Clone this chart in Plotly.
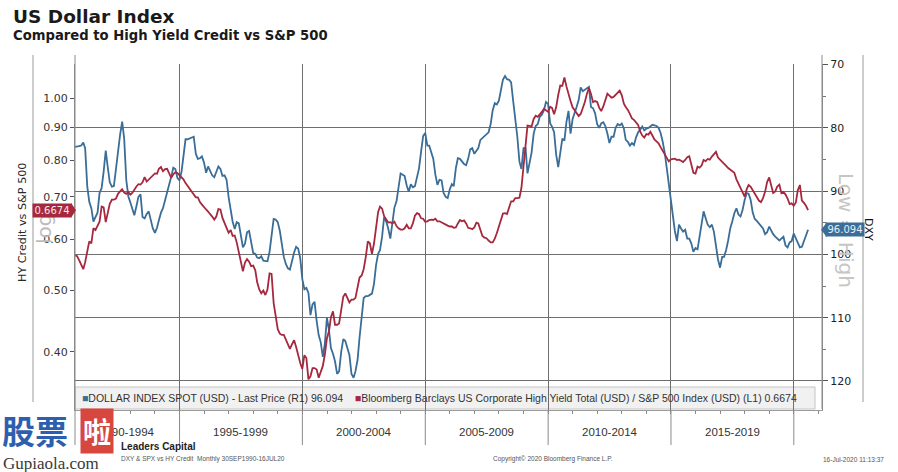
import math
import pandas as pd
import plotly.graph_objects as go

# ---------------- data (monthly, Sep-1990 .. Jul-2020) ----------------
start_month = "1990-09-30"

dxy = [
    83.0, 83.0, 82.9, 82.8, 82.3, 83.2, 89.2, 91.7, 92.7, 94.8,
    94.1, 93.4, 90.3, 89.5, 86.9, 83.6, 86.3, 88.6, 89.3, 89.2,
    86.5, 83.3, 81.1, 79.0, 81.7, 88.2, 90.8, 91.8, 92.8, 93.8,
    92.4, 90.9, 90.5, 94.1, 94.3, 93.6, 93.2, 94.5, 95.9, 96.6,
    95.8, 94.6, 93.4, 92.7, 91.5, 89.9, 89.0, 87.7, 86.3, 86.5,
    87.9, 88.3, 86.9, 84.6, 81.8, 81.8, 81.7, 81.5, 81.4, 84.1,
    84.9, 84.8, 84.5, 85.5, 87.1, 86.1, 86.8, 87.5, 87.8, 87.1,
    86.1, 86.5, 87.6, 87.5, 88.2, 91.0, 93.3, 94.8, 96.0, 94.9,
    95.1, 97.2, 98.9, 98.3, 96.5, 96.3, 98.2, 99.8, 99.9, 100.5,
    100.6, 100.3, 101.0, 101.0, 101.1, 99.6, 96.5, 94.4, 94.5, 94.9,
    96.3, 98.4, 100.4, 101.5, 102.2, 102.4, 100.8, 99.7, 98.8, 99.1,
    100.6, 103.9, 105.5, 105.3, 106.1, 109.6, 107.9, 107.5, 110.5, 112.8,
    113.9, 116.2, 114.1, 110.0, 112.0, 114.8, 115.7, 116.9, 118.9, 118.5,
    115.4, 113.4, 113.7, 114.8, 115.9, 118.9, 119.5, 118.5, 116.7, 113.1,
    109.5, 106.9, 106.6, 106.6, 106.4, 106.2, 104.7, 101.7, 99.9, 99.3,
    97.2, 94.1, 94.8, 95.9, 97.5, 94.8, 92.6, 91.6, 89.3, 87.2,
    87.4, 87.6, 89.1, 90.1, 88.9, 89.4, 89.2, 87.9, 86.4, 83.7,
    81.3, 80.8, 82.8, 82.8, 83.8, 84.9, 87.4, 89.0, 88.2, 88.3,
    90.3, 90.9, 91.1, 89.7, 88.9, 89.2, 86.4, 84.8, 84.9, 85.3,
    85.7, 85.9, 84.9, 83.4, 83.2, 84.1, 83.6, 83.2, 81.9, 81.6,
    81.2, 81.0, 80.7, 79.4, 77.2, 76.1, 76.3, 75.7, 74.2, 72.4,
    71.8, 72.3, 72.4, 72.8, 75.8, 78.4, 81.4, 85.3, 86.5, 83.2,
    83.2, 87.2, 85.6, 83.9, 80.9, 79.7, 79.4, 78.2, 77.9, 77.2,
    75.9, 76.2, 79.3, 79.8, 80.7, 84.2, 86.2, 83.8, 81.7, 82.0,
    79.1, 77.3, 80.9, 78.6, 77.7, 76.7, 75.6, 73.6, 74.2, 74.0,
    73.7, 73.5, 76.7, 76.9, 77.7, 79.4, 80.0, 79.3, 79.1, 79.7,
    80.9, 82.4, 81.4, 81.4, 80.0, 79.4, 79.6, 79.3, 80.1, 81.9,
    82.2, 82.8, 82.4, 82.7, 81.5, 80.7, 80.3, 79.8, 80.4, 80.1,
    80.0, 79.7, 79.5, 79.6, 79.7, 80.0, 80.8, 82.2, 83.9, 86.4,
    88.9, 91.3, 94.6, 96.3, 97.9, 95.3, 95.9, 96.4, 96.1, 97.5,
    97.5, 98.3, 99.6, 99.0, 99.2, 97.2, 94.5, 93.2, 94.3, 95.3,
    95.7, 95.3, 96.4, 98.5, 100.8, 102.1, 100.4, 100.4, 99.3, 97.8,
    95.9, 94.8, 93.5, 92.7, 93.7, 94.0, 93.0, 91.4, 90.3, 90.4,
    91.4, 93.4, 94.4, 94.7, 95.1, 95.4, 95.9, 96.8, 96.5, 95.6,
    96.3, 96.8, 97.2, 97.5, 97.8, 97.5, 97.2, 98.6, 98.9, 98.1,
    97.9, 96.7, 97.5, 98.4, 98.9, 98.8, 97.9, 97.2, 96.094,
]

hy_ratio = [
    0.567, 0.565, 0.557, 0.546, 0.539, 0.553, 0.579, 0.596, 0.592, 0.625,
    0.621, 0.629, 0.640, 0.676, 0.674, 0.639, 0.663, 0.683, 0.693, 0.693,
    0.696, 0.708, 0.714, 0.720, 0.711, 0.708, 0.713, 0.706, 0.711, 0.719,
    0.727, 0.733, 0.732, 0.738, 0.752, 0.740, 0.746, 0.751, 0.757, 0.762,
    0.761, 0.775, 0.780, 0.768, 0.774, 0.775, 0.762, 0.750, 0.760, 0.765,
    0.763, 0.758, 0.753, 0.746, 0.736, 0.728, 0.722, 0.712, 0.706, 0.699,
    0.699, 0.687, 0.681, 0.674, 0.669, 0.664, 0.659, 0.652, 0.645, 0.652,
    0.670, 0.669, 0.649, 0.635, 0.626, 0.615, 0.621, 0.608, 0.609, 0.594,
    0.572, 0.551, 0.535, 0.552, 0.559, 0.554, 0.545, 0.546, 0.537, 0.514,
    0.501, 0.494, 0.499, 0.491, 0.501, 0.531, 0.530, 0.477, 0.451, 0.434,
    0.427, 0.425, 0.425, 0.418, 0.412, 0.404, 0.411, 0.417, 0.407, 0.394,
    0.384, 0.376, 0.395, 0.391, 0.362, 0.366, 0.377, 0.377, 0.375, 0.364,
    0.371, 0.380, 0.396, 0.420, 0.431, 0.453, 0.463, 0.441, 0.441, 0.443,
    0.465, 0.488, 0.494, 0.486, 0.478, 0.483, 0.483, 0.486, 0.506, 0.523,
    0.527, 0.539, 0.563, 0.596, 0.592, 0.570, 0.591, 0.630, 0.663, 0.676,
    0.671, 0.653, 0.646, 0.638, 0.639, 0.636, 0.640, 0.630, 0.625, 0.622,
    0.622, 0.625, 0.633, 0.625, 0.625, 0.636, 0.654, 0.660, 0.658, 0.648,
    0.647, 0.640, 0.641, 0.644, 0.645, 0.644, 0.647, 0.641, 0.641, 0.638,
    0.636, 0.632, 0.631, 0.629, 0.629, 0.626, 0.627, 0.636, 0.644, 0.641,
    0.643, 0.636, 0.626, 0.625, 0.623, 0.627, 0.638, 0.636, 0.621, 0.608,
    0.604, 0.603, 0.598, 0.594, 0.594, 0.602, 0.614, 0.629, 0.646, 0.659,
    0.660, 0.658, 0.674, 0.689, 0.689, 0.697, 0.697, 0.698, 0.723, 0.787,
    0.862, 0.906, 0.905, 0.903, 0.928, 0.939, 0.935, 0.942, 0.952, 0.963,
    0.956, 0.952, 0.970, 0.966, 0.944, 0.968, 1.012, 1.047, 1.046, 1.078,
    1.044, 1.013, 0.990, 0.968, 0.958, 0.945, 0.938, 0.945, 0.964, 0.986,
    1.016, 1.038, 1.016, 0.986, 0.990, 0.987, 0.966, 0.955, 0.971, 0.993,
    1.017, 1.010, 1.002, 1.005, 1.013, 1.021, 1.028, 1.011, 0.981, 0.969,
    0.959, 0.945, 0.930, 0.925, 0.916, 0.908, 0.887, 0.874, 0.868, 0.879,
    0.877, 0.886, 0.874, 0.862, 0.856, 0.850, 0.838, 0.827, 0.815, 0.806,
    0.796, 0.802, 0.804, 0.804, 0.800, 0.801, 0.798, 0.794, 0.800, 0.808,
    0.811, 0.787, 0.764, 0.762, 0.781, 0.778, 0.784, 0.800, 0.797, 0.803,
    0.801, 0.810, 0.818, 0.824, 0.807, 0.800, 0.794, 0.789, 0.783, 0.777,
    0.772, 0.767, 0.764, 0.746, 0.735, 0.720, 0.709, 0.701, 0.720, 0.731,
    0.726, 0.717, 0.710, 0.700, 0.691, 0.687, 0.697, 0.713, 0.739, 0.751,
    0.726, 0.710, 0.714, 0.727, 0.732, 0.710, 0.713, 0.706, 0.696, 0.682,
    0.684, 0.678, 0.686, 0.717, 0.731, 0.691, 0.685, 0.678, 0.6674,
]

dxy_ticks = [70, 80, 90, 100, 110, 120]
ratio_ticks = [0.40, 0.50, 0.60, 0.70, 0.80, 0.90, 1.00]
period_bounds = ["1995-01-01", "2000-01-01", "2005-01-01", "2010-01-01", "2015-01-01", "2020-01-01"]
period_labels = ["1990-1994", "1995-1999", "2000-2004", "2005-2009", "2010-2014", "2015-2019"]

last_dxy = "96.094"
last_ratio = "0.6674"

# ---------------- styling ----------------
BLUE = "#3a6d97"
RED = "#a6283f"
GRID = "#6f6f6f"
X_RANGE = ["1990-09-30", "2021-02-23"]
DXY_RANGE = [124.6, 69.9]
RATIO_RANGE = [math.log10(0.324), math.log10(1.132)]

W, H = 898, 472
L, R, T, B = 75, 822, 64, 410


def px(x):
    return (x - L) / (R - L)


def py(y):
    return (B - y) / (B - T)


try:
    dates = pd.date_range(start_month, periods=len(dxy), freq="ME")
except Exception:
    dates = pd.date_range(start_month, periods=len(dxy), freq="M")

fig = go.Figure()
fig.add_trace(go.Scatter(x=dates, y=dxy, mode="lines", yaxis="y",
                         line=dict(color=BLUE, width=1.8), name="DXY"))
fig.add_trace(go.Scatter(x=dates, y=hy_ratio, mode="lines", yaxis="y2",
                         line=dict(color=RED, width=1.8), name="HY/SPX"))

fig.update_layout(
    width=W, height=H,
    margin=dict(l=L, r=W - R, t=T, b=H - B),
    paper_bgcolor="white", plot_bgcolor="white",
    showlegend=False,
    font=dict(family="DejaVu Sans", color="#222"),
    xaxis=dict(
        type="date", range=X_RANGE,
        tickmode="array", tickvals=period_bounds,
        showticklabels=False, ticks="",
        showgrid=True, gridcolor=GRID, gridwidth=1.2,
        zeroline=False, showline=True, linecolor="#9a9a9a", linewidth=1,
        minor=dict(dtick="M12", tick0="1991-01-01", ticks="outside",
                   ticklen=3, tickcolor="#8a8a8a", showgrid=False),
    ),
    yaxis=dict(
        side="right", range=DXY_RANGE,
        tickmode="array", tickvals=dxy_ticks,
        ticks="outside", ticklen=5, tickcolor="#555",
        tickfont=dict(size=11, color="#222", family="DejaVu Sans"),
        showgrid=True, gridcolor=GRID, gridwidth=1.2, zeroline=False,
        showline=True, linecolor="#8a8a8a", linewidth=1,
        minor=dict(dtick=5, tick0=75, ticks="outside", ticklen=3,
                   tickcolor="#777", showgrid=False),
    ),
    yaxis2=dict(
        type="log", overlaying="y", side="left",
        range=RATIO_RANGE,
        tickmode="array", tickvals=ratio_ticks,
        ticktext=["%.2f" % v for v in ratio_ticks],
        ticks="outside", ticklen=4, tickcolor="#555",
        tickfont=dict(size=11, color="#333", family="DejaVu Sans"),
        showgrid=False, zeroline=False,
        showline=True, linecolor="#8a8a8a", linewidth=1,
    ),
)

# paper-y of the last values (through the axis ranges) for the tag pointers
ratio_pos = (math.log10(float(last_ratio)) - RATIO_RANGE[0]) / (RATIO_RANGE[1] - RATIO_RANGE[0])
dxy_pos = (float(last_dxy) - DXY_RANGE[0]) / (DXY_RANGE[1] - DXY_RANGE[0])
half_tag = 7.5 / (B - T)

shapes = []
# legend box (under the grid)
shapes.append(dict(type="rect", xref="paper", yref="paper", layer="below",
                   x0=px(75), x1=px(815), y0=py(409), y1=py(387),
                   fillcolor="#f1f1f1", line=dict(color="#c4c4c4", width=1)))
# period separators below the axis
for d in period_bounds:
    shapes.append(dict(type="line", xref="x", yref="paper", x0=d, x1=d,
                       y0=py(410), y1=py(445), line=dict(color="#8a8a8a", width=1)))
# extended axis / frame lines
shapes.append(dict(type="line", xref="paper", yref="paper", x0=0, x1=0,
                   y0=py(55), y1=py(445), line=dict(color="#8a8a8a", width=1)))
shapes.append(dict(type="line", xref="paper", yref="paper", x0=1, x1=1,
                   y0=py(55), y1=py(409), line=dict(color="#8a8a8a", width=1)))
shapes.append(dict(type="line", xref="paper", yref="paper", x0=px(33), x1=px(33),
                   y0=py(55), y1=py(402), line=dict(color="#9a9a9a", width=1)))
shapes.append(dict(type="line", xref="paper", yref="paper", x0=px(863), x1=px(863),
                   y0=py(55), y1=py(402), line=dict(color="#9a9a9a", width=1)))
# tag pointers
shapes.append(dict(type="path", xref="paper", yref="paper", layer="above",
                   path=f"M {px(71)} {ratio_pos + half_tag} L {px(76)} {ratio_pos} "
                        f"L {px(71)} {ratio_pos - half_tag} Z",
                   fillcolor=RED, line=dict(width=0)))
shapes.append(dict(type="path", xref="paper", yref="paper", layer="above",
                   path=f"M {px(827)} {dxy_pos + half_tag} L {px(821)} {dxy_pos} "
                        f"L {px(827)} {dxy_pos - half_tag} Z",
                   fillcolor=BLUE, line=dict(width=0)))
fig.update_layout(shapes=shapes)

ann = []


def text(x, y, s, size, color="#222", xanchor="left", angle=0, family="DejaVu Sans", **kw):
    ann.append(dict(xref="paper", yref="paper", x=px(x), y=py(y), text=s,
                    showarrow=False, xanchor=xanchor, yanchor="middle",
                    textangle=angle, font=dict(size=size, color=color, family=family), **kw))


# titles
text(11, 17, "<b>US Dollar Index</b>", 18.5, "#1a1a1a")
text(11, 35, "<b>Compared to High Yield Credit vs S&amp;P 500</b>", 13.2, "#1a1a1a")

# axis titles and watermarks
text(22, 222, "HY Credit vs S&amp;P 500", 11.2, "#2a2a2a", xanchor="center", angle=-90)
text(44, 229, "log", 20, "#bcbcbc", xanchor="center", angle=-90)
text(846, 230, "Low = High", 20, "#c6c6c6", xanchor="center", angle=90)
text(869, 230, "DXY", 11, "#111", xanchor="center", angle=90)

# last value tags
ann.append(dict(xref="paper", yref="y2", x=px(72), y=math.log10(float(last_ratio)),
                text=last_ratio, showarrow=False, xanchor="right", yanchor="middle",
                bgcolor=RED, borderpad=1, width=36,
                font=dict(size=10, color="#f4e6e8", family="DejaVu Sans")))
ann.append(dict(xref="paper", yref="y", x=px(825), y=float(last_dxy),
                text=last_dxy, showarrow=False, xanchor="left", yanchor="middle",
                bgcolor=BLUE, borderpad=1, width=36,
                font=dict(size=10, color="#e8eef5", family="DejaVu Sans")))

# legend text
legend_txt = (f'<span style="color:{BLUE}">■</span>DOLLAR INDEX SPOT (USD) - Last Price (R1) {last_dxy}'
              '\u00a0\u00a0\u00a0\u00a0'
              f'<span style="color:{RED}">■</span>Bloomberg Barclays US Corporate High Yield Total (USD) / '
              f'S&amp;P 500 Index (USD) (L1) {last_ratio}')
text(80, 398, legend_txt, 10.5, "#333", family="Liberation Sans")

# period labels
bounds = [X_RANGE[0]] + period_bounds
for i, lab in enumerate(period_labels):
    a = pd.Timestamp(bounds[i])
    b = pd.Timestamp(bounds[i + 1])
    mid = a + (b - a) / 2
    ann.append(dict(xref="x", yref="paper", x=mid, y=py(432), text=lab,
                    showarrow=False, xanchor="center", yanchor="middle",
                    font=dict(size=11.5, color="#333", family="Liberation Sans")))

# footer
text(119, 446, "<b>Leaders Capital</b>", 10, "#222", family="Liberation Sans")
text(119, 459, "DXY &amp; SPX vs HY Credit  Monthly 30SEP1990-16JUL20", 6.5, "#555", family="Liberation Sans")
text(553, 459, "Copyright© 2020 Bloomberg Finance L.P.", 6.5, "#555", xanchor="center", family="Liberation Sans")
text(886, 459, "16-Jul-2020 11:13:37", 6.5, "#555", xanchor="right", family="Liberation Sans")

# site watermark
text(0, 430, "<b>股票</b>", 33, "#2d5fae", family="Noto Sans CJK SC")
ann.append(dict(xref="paper", yref="paper", x=px(97), y=py(431), text="<b>啦</b>",
                showarrow=False, xanchor="center", yanchor="middle",
                bgcolor="#d8473f", borderpad=2,
                font=dict(size=28, color="white", family="Noto Sans CJK SC")))
text(1, 463, "Gupiaola.com", 17, "#3a3a3a", family="Liberation Serif")

fig.update_layout(annotations=ann)
fig.write_html(
    "out.html",
    config={"displayModeBar": False},
    post_script="document.body.style.margin='0';document.body.style.overflow='hidden';",
)
